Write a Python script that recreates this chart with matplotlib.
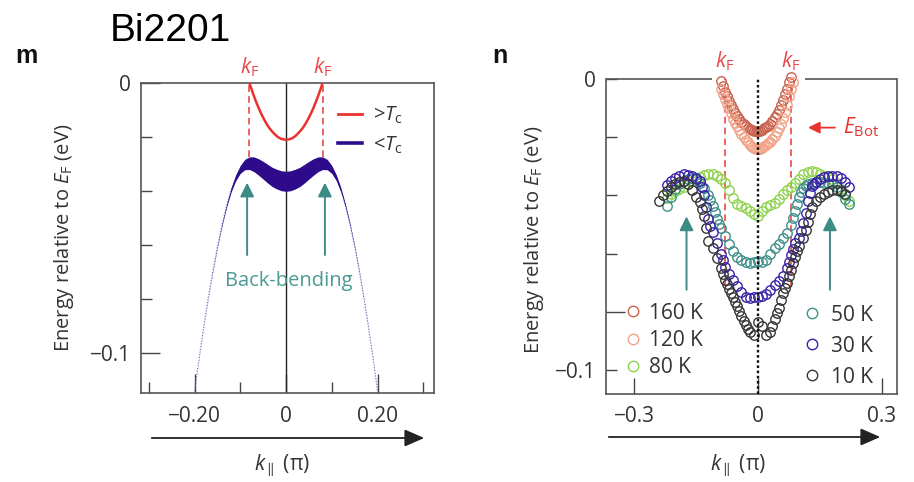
import matplotlib
matplotlib.use('Agg')
import matplotlib.pyplot as plt
from matplotlib.lines import Line2D
from matplotlib.patches import FancyArrowPatch
import numpy as np

plt.rcParams['font.family'] = ['Open Sans', 'DejaVu Sans']
plt.rcParams['mathtext.fontset'] = 'custom'
plt.rcParams['mathtext.rm'] = 'Open Sans'
plt.rcParams['mathtext.it'] = 'Open Sans:italic'
plt.rcParams['mathtext.bf'] = 'Open Sans:bold'

# ---------------- Panel m (schematic) ----------------
k_normal_half = [0.0, 0.005, 0.01, 0.015, 0.02, 0.025, 0.03, 0.035, 0.04,
                 0.045, 0.05, 0.055, 0.06, 0.065, 0.07, 0.075, 0.08]
E_normal_half = [-0.0210, -0.0209, -0.0207, -0.0203, -0.0197, -0.0189, -0.0180,
                 -0.0170, -0.0158, -0.0144, -0.0128, -0.0111, -0.0092, -0.0071,
                 -0.0049, -0.0025, 0.0000]
k_sc_half = [0.0, 0.01, 0.02, 0.03, 0.04, 0.05, 0.06, 0.07, 0.08, 0.09, 0.10,
             0.11, 0.12, 0.13, 0.14, 0.15, 0.16, 0.17, 0.18, 0.19, 0.20]
E_sc_half = [-0.0364, -0.0362, -0.0356, -0.0348, -0.0336, -0.0323, -0.0311,
             -0.0301, -0.0297, -0.0302, -0.0320, -0.0351, -0.0396, -0.0455,
             -0.0525, -0.0606, -0.0696, -0.0795, -0.0903, -0.1018, -0.1141]
width_sc_half = [0.00741, 0.00739, 0.00730, 0.00714, 0.00690, 0.00656, 0.00609,
                 0.00547, 0.00470, 0.00383, 0.00296, 0.00220, 0.00159, 0.00114,
                 0.00082, 0.00060, 0.00045, 0.00034, 0.00026, 0.00020, 0.00016]
kF_m = [-0.08, 0.08]
kF_m_dash_bottom = -0.0274
arrow_k_m = [-0.085, 0.085]
arrow_m_tail, arrow_m_head = -0.0637, -0.0369

# ---------------- Panel n (data) ----------------
k160 = [-0.090, -0.085, -0.080, -0.075, -0.070, -0.065, -0.060, -0.055, -0.050,
        -0.045, -0.040, -0.035, -0.030, -0.025, -0.020, -0.015, -0.010, -0.005,
        0.000, 0.005, 0.010, 0.015, 0.020, 0.025, 0.030, 0.035, 0.040, 0.045,
        0.050, 0.055, 0.060, 0.065, 0.070, 0.075, 0.080]
E160 = [-0.0008, -0.0025, -0.0044, -0.0060, -0.0076, -0.0091, -0.0104, -0.0116,
        -0.0127, -0.0137, -0.0146, -0.0154, -0.0161, -0.0167, -0.0172, -0.0176,
        -0.0178, -0.0180, -0.0179, -0.0178, -0.0175, -0.0170, -0.0164, -0.0160,
        -0.0153, -0.0143, -0.0131, -0.0119, -0.0105, -0.0090, -0.0072, -0.0053,
        -0.0033, -0.0011, 0.0008]
k120 = [-0.090, -0.085, -0.080, -0.075, -0.070, -0.065, -0.060, -0.055, -0.050,
        -0.045, -0.040, -0.035, -0.030, -0.025, -0.020, -0.015, -0.010, -0.005,
        0.000, 0.005, 0.010, 0.015, 0.020, 0.025, 0.030, 0.035, 0.040, 0.045,
        0.050, 0.055, 0.060, 0.065, 0.070, 0.075, 0.080, 0.085]
E120 = [-0.0035, -0.0050, -0.0068, -0.0085, -0.0100, -0.0118, -0.0136, -0.0150,
        -0.0163, -0.0176, -0.0188, -0.0199, -0.0209, -0.0218, -0.0226, -0.0232,
        -0.0237, -0.0240, -0.0242, -0.0240, -0.0236, -0.0230, -0.0225, -0.0220,
        -0.0215, -0.0207, -0.0196, -0.0183, -0.0168, -0.0153, -0.0135, -0.0112,
        -0.0088, -0.0060, -0.0035, -0.0012]
k80 = [-0.22, -0.21, -0.20, -0.19, -0.18, -0.17, -0.16, -0.15, -0.14, -0.13,
       -0.12, -0.11, -0.10, -0.09, -0.08, -0.07, -0.06, -0.05, -0.04, -0.03,
       -0.02, -0.01, 0.00, 0.01, 0.02, 0.03, 0.04, 0.05, 0.06, 0.07, 0.08, 0.09,
       0.10, 0.11, 0.12, 0.13, 0.14, 0.15, 0.16, 0.17, 0.18, 0.19, 0.20, 0.21, 0.22]
E80 = [-0.0410, -0.0395, -0.0385, -0.0378, -0.0372, -0.0360, -0.0352, -0.0342,
       -0.0335, -0.0330, -0.0326, -0.0328, -0.0332, -0.0342, -0.0358, -0.0382,
       -0.0410, -0.0428, -0.0436, -0.0444, -0.0452, -0.0462, -0.0470, -0.0455,
       -0.0438, -0.0432, -0.0427, -0.0412, -0.0395, -0.0382, -0.0370, -0.0358,
       -0.0342, -0.0328, -0.0320, -0.0316, -0.0320, -0.0326, -0.0332, -0.0338,
       -0.0345, -0.0358, -0.0378, -0.0398, -0.0420]
k50 = [-0.22, -0.21, -0.20, -0.19, -0.18, -0.17, -0.16, -0.15, -0.14, -0.13,
       -0.12, -0.115, -0.11, -0.105, -0.10, -0.095, -0.09, -0.08, -0.07, -0.06,
       -0.05, -0.04, -0.03, -0.02, -0.01, 0.00, 0.01, 0.02, 0.03, 0.04, 0.05,
       0.06, 0.07, 0.08, 0.085, 0.09, 0.095, 0.10, 0.105, 0.11, 0.115, 0.12,
       0.13, 0.14, 0.15, 0.16, 0.17, 0.18, 0.19, 0.20, 0.21, 0.22]
E50 = [-0.0435, -0.0405, -0.0378, -0.0360, -0.0350, -0.0344, -0.0340, -0.0345,
       -0.0357, -0.0375, -0.0400, -0.0415, -0.0435, -0.0458, -0.0480, -0.0497,
       -0.0512, -0.0540, -0.0568, -0.0592, -0.0612, -0.0622, -0.0630, -0.0632,
       -0.0628, -0.0626, -0.0630, -0.0622, -0.0600, -0.0580, -0.0568, -0.0545,
       -0.0530, -0.0500, -0.0478, -0.0455, -0.0430, -0.0405, -0.0388, -0.0375,
       -0.0368, -0.0362, -0.0357, -0.0355, -0.0355, -0.0356, -0.0356, -0.0360,
       -0.0372, -0.0388, -0.0412, -0.0430]
k30 = [-0.22, -0.21, -0.20, -0.19, -0.18, -0.17, -0.16, -0.15, -0.14, -0.135,
       -0.13, -0.125, -0.12, -0.115, -0.11, -0.10, -0.09, -0.085, -0.08, -0.07,
       -0.06, -0.05, -0.04, -0.03, -0.02, -0.01, 0.00, 0.01, 0.02, 0.03, 0.04,
       0.05, 0.06, 0.07, 0.075, 0.08, 0.085, 0.09, 0.10, 0.105, 0.11, 0.115,
       0.12, 0.125, 0.13, 0.135, 0.14, 0.15, 0.16, 0.17, 0.18, 0.19, 0.20, 0.21,
       0.22]
E30 = [-0.0365, -0.0350, -0.0340, -0.0332, -0.0328, -0.0330, -0.0334, -0.0340,
       -0.0350, -0.0372, -0.0400, -0.0440, -0.0480, -0.0505, -0.0525, -0.0565,
       -0.0600, -0.0622, -0.0645, -0.0670, -0.0690, -0.0710, -0.0730, -0.0748,
       -0.0752, -0.0750, -0.0748, -0.0745, -0.0740, -0.0725, -0.0708, -0.0695,
       -0.0675, -0.0650, -0.0630, -0.0605, -0.0585, -0.0565, -0.0545, -0.0522,
       -0.0495, -0.0460, -0.0420, -0.0392, -0.0368, -0.0360, -0.0355, -0.0345,
       -0.0338, -0.0334, -0.0332, -0.0334, -0.0340, -0.0355, -0.0372]
k10 = [-0.24, -0.23, -0.22, -0.21, -0.20, -0.19, -0.18, -0.17, -0.16, -0.15,
       -0.14, -0.135, -0.13, -0.125, -0.12, -0.11, -0.10, -0.09, -0.085, -0.08,
       -0.075, -0.07, -0.065, -0.06, -0.055, -0.05, -0.045, -0.04, -0.035, -0.03,
       -0.025, -0.02, -0.01, 0.00, 0.01, 0.02, 0.03, 0.035, 0.04, 0.045, 0.05,
       0.055, 0.06, 0.065, 0.07, 0.075, 0.08, 0.085, 0.09, 0.095, 0.10, 0.11,
       0.115, 0.12, 0.125, 0.13, 0.14, 0.15, 0.16, 0.17, 0.18, 0.19, 0.20, 0.21]
E10 = [-0.0418, -0.0400, -0.0385, -0.0372, -0.0362, -0.0355, -0.0352, -0.0360,
       -0.0380, -0.0405, -0.0422, -0.0445, -0.0470, -0.0512, -0.0555, -0.0580,
       -0.0615, -0.0650, -0.0670, -0.0690, -0.0705, -0.0720, -0.0735, -0.0750,
       -0.0765, -0.0780, -0.0798, -0.0815, -0.0830, -0.0845, -0.0860, -0.0870,
       -0.0880, -0.0835, -0.0850, -0.0878, -0.0870, -0.0848, -0.0825, -0.0805,
       -0.0785, -0.0760, -0.0735, -0.0718, -0.0700, -0.0678, -0.0655, -0.0632,
       -0.0610, -0.0592, -0.0575, -0.0545, -0.0520, -0.0490, -0.0465, -0.0440,
       -0.0420, -0.0405, -0.0395, -0.0388, -0.0382, -0.0380, -0.0385, -0.0395]

series_labels = ['160 K', '120 K', '80 K', '50 K', '30 K', '10 K']
series_colors = ['#c8624d', '#f2a287', '#8ed24e', '#3f8f8a', '#3c22a8', '#363636']
series_k = [k160, k120, k80, k50, k30, k10]
series_E = [E160, E120, E80, E50, E30, E10]
draw_order = [0, 1, 2, 5, 3, 4]

kF_n = [-0.080, 0.080]
kF_n_dash_bottom = -0.071
arrow_k_n = [-0.173, 0.174]
arrow_n_tail, arrow_n_head = -0.0724, -0.0472
Ebot_level = -0.0167
Ebot_arrow = (0.186, 0.121)
Ebot_text_k = 0.205

# ---------------- styles ----------------
RED = '#e8322d'
RED_D = '#e8494a'
INDIGO = '#2d0b8a'
TEAL = '#3c8b85'
TEXT = '#333333'
SPINE = '#555555'

W, H = 914, 482
fig = plt.figure(figsize=(W / 100, H / 100), dpi=100)
fig.patch.set_facecolor('white')

axm = fig.add_axes([141 / W, (H - 393) / H, 293 / W, 310 / H])
axn = fig.add_axes([606 / W, (H - 394) / H, 291 / W, 315 / H])

# ---------- panel m ----------
k_sc = np.concatenate([-np.array(k_sc_half[::-1]), np.array(k_sc_half[1:])])
E_sc = np.concatenate([np.array(E_sc_half[::-1]), np.array(E_sc_half[1:])])
w_sc = np.concatenate([np.array(width_sc_half[::-1]), np.array(width_sc_half[1:])])
k_no = np.concatenate([-np.array(k_normal_half[::-1]), np.array(k_normal_half[1:])])
E_no = np.concatenate([np.array(E_normal_half[::-1]), np.array(E_normal_half[1:])])

axm.set_xlim(-0.317, 0.3235)
axm.set_ylim(-0.1148, 0)
axm.fill_between(k_sc, E_sc - w_sc / 2, E_sc + w_sc / 2, color=INDIGO, lw=0,
                 zorder=3)
axm.plot(k_sc, E_sc, color='#7a6cc4', lw=0.8, ls=(0, (1, 1.5)), zorder=2.9)
axm.plot(k_no, E_no, color=RED, lw=1.8, zorder=4)
axm.axvline(0, color='#222222', lw=1.0, zorder=2)
axm.vlines(kF_m, kF_m_dash_bottom, 0, colors=RED_D, linestyles=(0, (4, 2.5)),
           lw=1.2, zorder=3)
for kx in arrow_k_m:
    axm.annotate('', xy=(kx, arrow_m_head), xytext=(kx, arrow_m_tail),
                 arrowprops=dict(arrowstyle='-|>,head_length=0.6,head_width=0.3',
                                 color=TEAL, lw=1.4, mutation_scale=14,
                                 shrinkA=0, shrinkB=0), zorder=5)
axm.text(0.006, -0.0733, 'Back-bending', color='#4a9a94', fontsize=14.5,
         ha='center', va='center', zorder=6)
for kx in kF_m:
    axm.text(kx, 1.05, '$k_{\\mathrm{F}}$', color=RED_D, fontsize=15,
             ha='center', va='center', transform=axm.get_xaxis_transform())

handles_m = [Line2D([], [], color=RED, lw=2.0), Line2D([], [], color=INDIGO, lw=2.6)]
axm.legend(handles_m, ['>$T_{\\mathrm{c}}$', '<$T_{\\mathrm{c}}$'], loc='upper left',
           bbox_to_anchor=(0.672, 0.93), frameon=False, fontsize=14.5,
           handlelength=1.2, handletextpad=0.55, borderpad=0, borderaxespad=0,
           labelspacing=0.42, labelcolor=TEXT)

axm.set_xticks([-0.2, 0, 0.2])
axm.set_xticklabels(['\u22120.20', '0', '0.20'])
axm.set_xticks([-0.3, -0.1, 0.1, 0.3], minor=True)
axm.set_yticks([-0.1, 0])
axm.set_yticklabels(['\u22120.1', '0'])
axm.set_yticks([-0.08, -0.06, -0.04, -0.02], minor=True)
axm.tick_params(which='both', direction='in', color='#444444', width=1.0,
                labelsize=15, labelcolor=TEXT)
axm.tick_params(which='major', length=14)
axm.tick_params(which='minor', length=8)
axm.tick_params(axis='x', which='major', pad=9)
axm.tick_params(axis='y', which='major', pad=7)
for s in axm.spines.values():
    s.set_color(SPINE)
    s.set_linewidth(1.2)
axm.set_ylabel('Energy relative to $E_{\\mathrm{F}}$ (eV)', fontsize=14.5, color=TEXT)
axm.yaxis.set_label_coords(-0.222, 0.5)
axm.set_xlabel('$k_{\\parallel}$ (\u03c0)', fontsize=15, color=TEXT)
axm.xaxis.set_label_coords(0.481, -0.19)

# ---------- panel n ----------
axn.set_xlim(-0.3678, 0.3363)
axn.set_ylim(-0.1082, 0)
axn.axvline(0, color='#111111', lw=1.7, ls=(0, (1.1, 1.1)), zorder=6)
axn.vlines(kF_n, kF_n_dash_bottom, 0, colors=RED_D, linestyles=(0, (4, 2.5)),
           lw=1.2, zorder=2)
for i in draw_order:
    axn.plot(series_k[i], series_E[i], ls='none', marker='o', ms=6.8, mfc='none',
             mec=series_colors[i], mew=1.0, clip_on=False, zorder=3 + i * 0.1)
for kx in arrow_k_n:
    axn.annotate('', xy=(kx, arrow_n_head), xytext=(kx, arrow_n_tail),
                 arrowprops=dict(arrowstyle='-|>,head_length=0.6,head_width=0.3',
                                 color=TEAL, lw=1.4, mutation_scale=14,
                                 shrinkA=0, shrinkB=0), zorder=5)
axn.annotate('', xy=(Ebot_arrow[1], Ebot_level), xytext=(Ebot_arrow[0], Ebot_level),
             arrowprops=dict(arrowstyle='-|>,head_length=0.5,head_width=0.25',
                             color=RED, lw=1.3, mutation_scale=14,
                             shrinkA=0, shrinkB=0))
axn.text(Ebot_text_k, Ebot_level, '$E_{\\mathrm{Bot}}$', color=RED, fontsize=15,
         ha='left', va='center')
for kx in kF_n:
    axn.text(kx, 1.057, '$k_{\\mathrm{F}}$', color=RED_D, fontsize=15,
             ha='center', va='center', transform=axn.get_xaxis_transform())

hn = [Line2D([], [], ls='none', marker='o', ms=7.5, mfc='none', mec=c, mew=1.0)
      for c in series_colors]
leg1 = axn.legend(hn[:3], series_labels[:3], loc='upper left',
                  bbox_to_anchor=(0.063, 0.29), frameon=False, fontsize=15,
                  handlelength=0.8, handletextpad=0.4, borderpad=0,
                  borderaxespad=0, labelspacing=0.3, labelcolor=TEXT)
axn.add_artist(leg1)
axn.legend(hn[3:], series_labels[3:], loc='upper left',
           bbox_to_anchor=(0.678, 0.284), frameon=False, fontsize=15,
           handlelength=0.8, handletextpad=0.55, borderpad=0,
           borderaxespad=0, labelspacing=0.48, labelcolor=TEXT)

axn.set_xticks([-0.3, 0, 0.3])
axn.set_xticklabels(['\u22120.3', '0', '0.3'])
axn.set_yticks([-0.1, -0.08, 0])
axn.set_yticklabels(['\u22120.1', '', '0'])
axn.set_yticks([-0.06, -0.04, -0.02], minor=True)
axn.tick_params(which='both', direction='in', color='#444444', width=1.0,
                labelsize=15, labelcolor=TEXT)
axn.tick_params(axis='y', which='both', length=8, pad=7)
axn.tick_params(axis='x', which='major', length=11.5, pad=9)
axn.yaxis.get_major_ticks()[1].tick1line.set_markersize(14)
for name, s in axn.spines.items():
    s.set_color(SPINE)
    s.set_linewidth(1.2)
axn.spines['top'].set_visible(False)
for seg in ([0, 0.364], [0.684, 1.0]):
    axn.plot(seg, [1, 1], transform=axn.transAxes, color=SPINE, lw=1.2,
             clip_on=False, solid_capstyle='butt')
axn.set_ylabel('Energy relative to $E_{\\mathrm{F}}$ (eV)', fontsize=14.5, color=TEXT)
axn.yaxis.set_label_coords(-0.206, 0.49)
axn.set_xlabel('$k_{\\parallel}$ (\u03c0)', fontsize=15, color=TEXT)
axn.xaxis.set_label_coords(0.454, -0.185)

# ---------- figure-level text and arrows ----------
fig.text(110 / W, 1 - 41 / H, 'Bi2201', fontsize=28, family='Liberation Sans',
         va='baseline', ha='left', color='black')
fig.text(15 / W, 1 - 63 / H, 'm', fontsize=18, family='Liberation Sans',
         fontweight='bold', va='baseline', ha='left', color='#111111')
fig.text(492 / W, 1 - 63 / H, 'n', fontsize=18, family='Liberation Sans',
         fontweight='bold', va='baseline', ha='left', color='#111111')
for x0, x1, yy in ((149, 427, 438), (606, 883, 437)):
    fig.add_artist(FancyArrowPatch((x0 / W, 1 - yy / H), (x1 / W, 1 - yy / H),
                                   transform=fig.transFigure,
                                   arrowstyle='-|>,head_length=0.8,head_width=0.35',
                                   mutation_scale=15, lw=1.3, color='#222222'))

fig.savefig('out.png', dpi=100, facecolor='white')
